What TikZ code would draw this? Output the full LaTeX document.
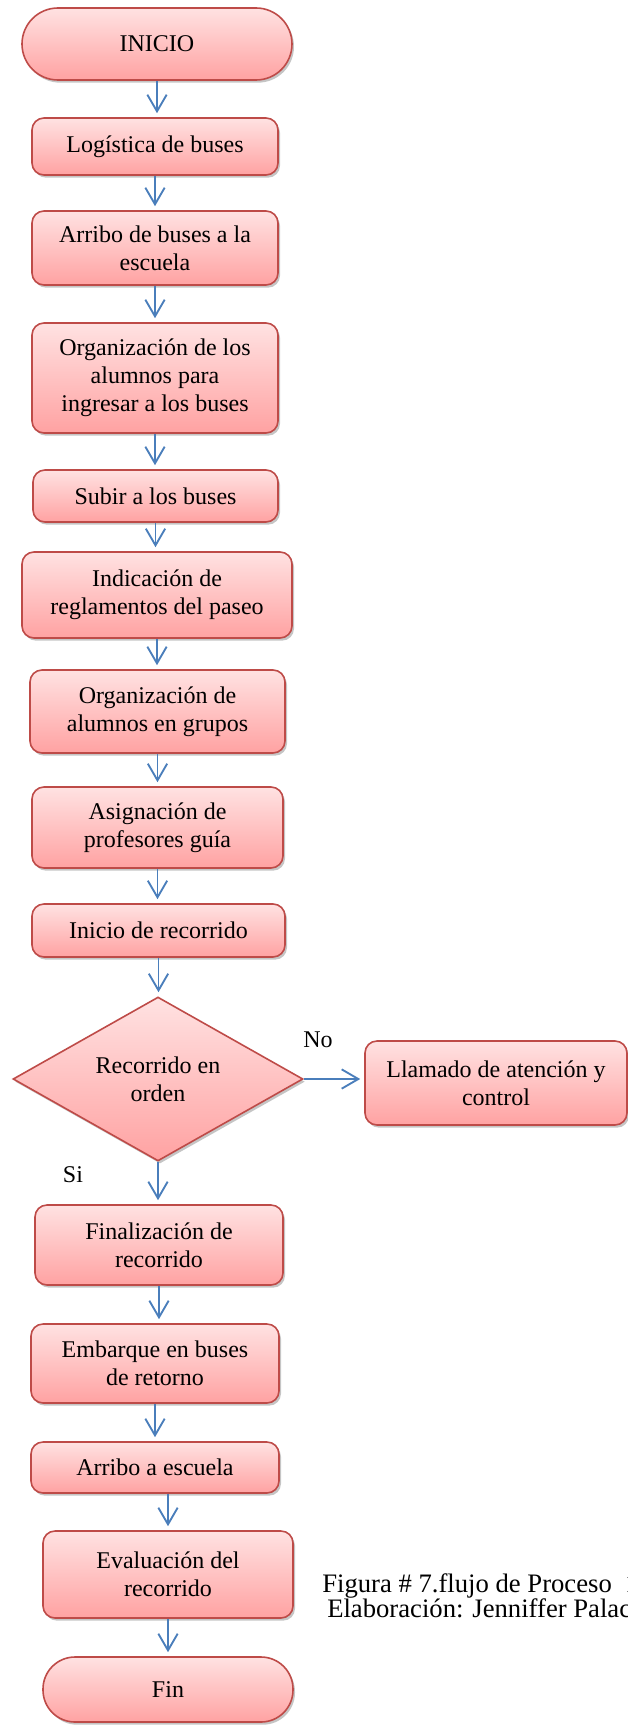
\documentclass[tikz,border=0pt]{standalone}
\usepackage{fontspec}
\setmainfont{Liberation Serif}
\usepackage{tikz}
\usetikzlibrary{arrows.meta, positioning, shapes.geometric, shadows}

\definecolor{cajaalto}{HTML}{FFE2E2}
\definecolor{cajabajo}{HTML}{FFA2A2}
\definecolor{cajaborde}{HTML}{BE4B48}
\definecolor{flechaazul}{HTML}{4A7EBB}

\tikzset{
    paso/.style={draw=cajaborde, line width=1.2pt, rectangle, rounded corners=9pt,
        top color=cajaalto, bottom color=cajabajo, align=center, inner sep=2pt,
        drop shadow={shadow xshift=1.5pt, shadow yshift=-2pt, fill=black!45}},
    terminal/.style={paso, rounded corners=24pt},
    decision/.style={paso, diamond, rounded corners=0pt, aspect=1.77},
    flecha/.style={-{Straight Barb[length=12.5pt, width=14.5pt]}, flechaazul, line width=1.4pt, shorten >=3pt}
}

\begin{document}
\begin{tikzpicture}[x=0.75pt, y=-0.75pt, font=\fontsize{18}{21}\selectfont]
    \useasboundingbox (0,0) rectangle (628,1727);
    % inicio
    \node[terminal, rounded corners=27pt, minimum width=202.5pt, minimum height=54pt] (ini) at (157,44) {INICIO};
    % pasos
    \node[paso, minimum width=184.5pt, minimum height=42.75pt] (log) at (155,146.5) {Logística de buses};
    \node[paso, minimum width=184.5pt, minimum height=55.5pt] (arr) at (155,248) {Arribo de buses a la\\escuela};
    \node[paso, minimum width=184.5pt, minimum height=82.5pt] (org) at (155,378) {Organización de los\\alumnos para\\ingresar a los buses};
    \node[paso, minimum width=183.75pt, minimum height=39pt] (sub) at (155.5,496) {Subir a los buses};
    \node[paso, minimum width=202.5pt, minimum height=64.5pt] (ind) at (157,595) {Indicación de\\reglamentos del paseo};
    \node[paso, minimum width=191.25pt, minimum height=62.25pt] (grp) at (157.5,711.5) {Organización de\\alumnos en grupos};
    \node[paso, minimum width=188.25pt, minimum height=60.75pt] (asg) at (157.5,827.5) {Asignación de\\profesores guía};
    \node[paso, minimum width=189.75pt, minimum height=39.75pt] (inr) at (158.5,930.5) {Inicio de recorrido};
    % decision
    \node[decision, minimum width=217.5pt, minimum height=123pt] (dec) at (158,1079) {Recorrido en\\orden};
    \node[paso, minimum width=196.5pt, minimum height=63pt] (llm) at (496,1083) {Llamado de atención y\\control};
    \node (no) at (318,1040) {No};
    \node (si) at (73,1175) {Si};
    % pasos finales
    \node[paso, minimum width=186pt, minimum height=60pt] (fnz) at (159,1245) {Finalización de\\recorrido};
    \node[paso, minimum width=186pt, minimum height=59.25pt] (emb) at (155,1363.5) {Embarque en buses\\de retorno};
    \node[paso, minimum width=186pt, minimum height=38.25pt] (arb) at (155,1467.5) {Arribo a escuela};
    \node[paso, minimum width=187.5pt, minimum height=65.25pt] (eva) at (168,1574.5) {Evaluación del\\recorrido};
    \node[terminal, minimum width=187.5pt, minimum height=48.75pt] (fin) at (168,1689.5) {Fin};
    % pie de figura
    \node[anchor=base west, inner sep=0pt, font=\fontsize{20}{19}\selectfont] (cap1) at (322,1592) {Figura \# 7.flujo de Proceso\ \ 1};
    \node[anchor=base west, inner sep=0pt, font=\fontsize{20}{19}\selectfont] (cap2) at (327,1617) {Elaboración: Jenniffer Palacios};
    % flechas
    \foreach \a/\b in {ini/log, log/arr, arr/org, org/sub, sub/ind, ind/grp, grp/asg, asg/inr, inr/dec, dec/fnz, fnz/emb, emb/arb} {
        \draw[flecha] (\a.south) -- (\a.south |- \b.north);
    }
    \draw[flecha] (arb.south -| eva.north) -- (eva.north);
    \draw[flecha] (eva.south) -- (eva.south |- fin.north);
    \draw[flecha] (dec.east) -- (dec.east -| llm.west);
\end{tikzpicture}
\end{document}
